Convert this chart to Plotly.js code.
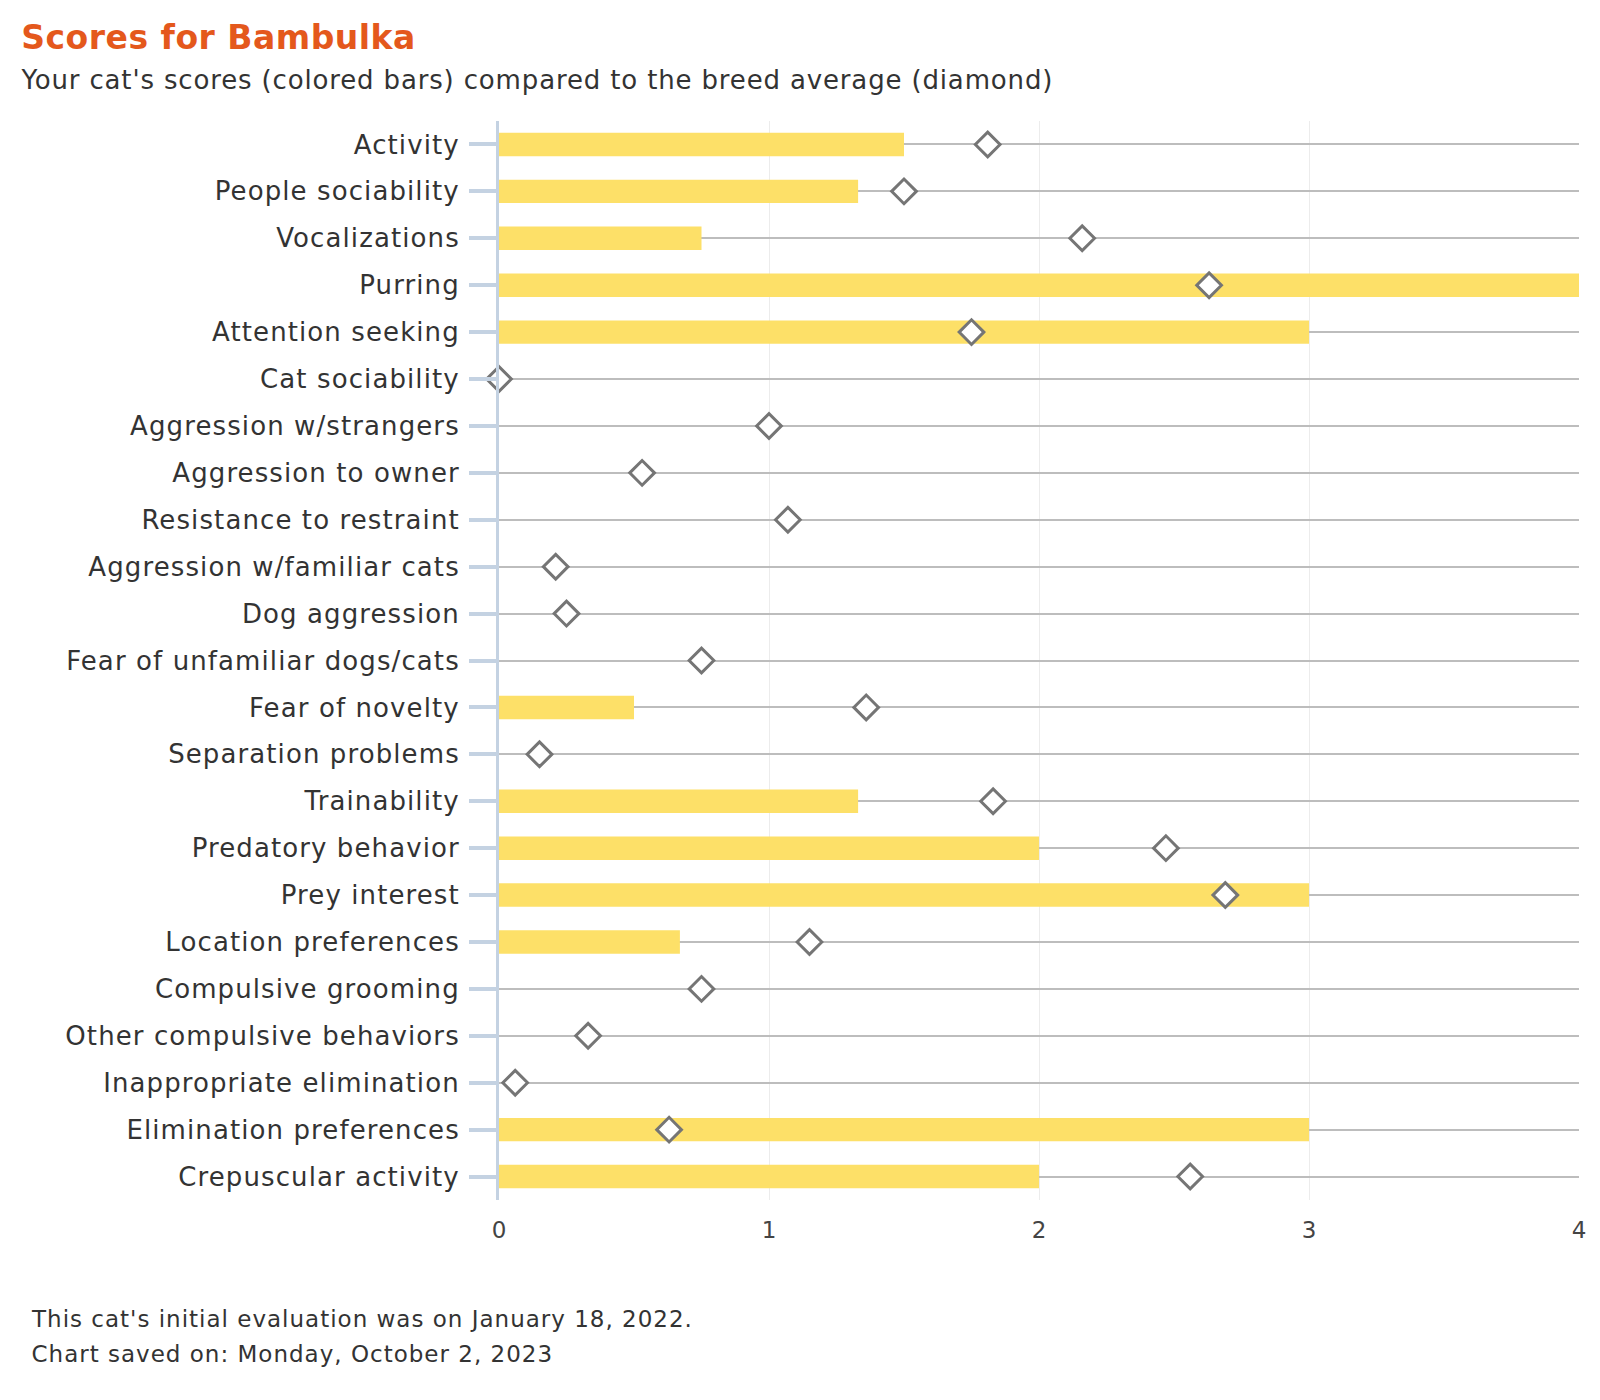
<!DOCTYPE html>
<html>
<head>
<meta charset="utf-8">
<script src="https://cdn.plot.ly/plotly-3.0.1.min.js"></script>
<style>
  html, body { margin: 0; padding: 0; background: #ffffff; }
  #chart { width: 1600px; height: 1400px; }
  #chart .ytick text { letter-spacing: 1.1px; }
  #chart .annotation[data-index="0"] text { letter-spacing: 0.5px; }
  #chart .annotation[data-index="1"] text { letter-spacing: 0.85px; }
  #chart .annotation[data-index="2"] text,
  #chart .annotation[data-index="3"] text { letter-spacing: 1px; }
</style>
</head>
<body>
<div id="chart"></div>
<script>
// ---- Data ----
const categories = [
  "Activity",
  "People sociability",
  "Vocalizations",
  "Purring",
  "Attention seeking",
  "Cat sociability",
  "Aggression w/strangers",
  "Aggression to owner",
  "Resistance to restraint",
  "Aggression w/familiar cats",
  "Dog aggression",
  "Fear of unfamiliar dogs/cats",
  "Fear of novelty",
  "Separation problems",
  "Trainability",
  "Predatory behavior",
  "Prey interest",
  "Location preferences",
  "Compulsive grooming",
  "Other compulsive behaviors",
  "Inappropriate elimination",
  "Elimination preferences",
  "Crepuscular activity"
];
const catScores = [1.5, 1.33, 0.75, 4, 3, 0, 0, 0, 0, 0, 0, 0, 0.5, 0, 1.33, 2, 3, 0.67, 0, 0, 0, 3, 2];
const breedAverage = [1.81, 1.5, 2.16, 2.63, 1.75, 0, 1.0, 0.53, 1.07, 0.21, 0.25, 0.75, 1.36, 0.15, 1.83, 2.47, 2.69, 1.15, 0.75, 0.33, 0.06, 0.63, 2.56];
const xTickVals = [0, 1, 2, 3, 4];
const xTickText = ["0", "1", "2", "3", "4"];

const titleText = "Scores for Bambulka";
const subtitleText = "Your cat's scores (colored bars) compared to the breed average (diamond)";
const footerLines = [
  "This cat's initial evaluation was on January 18, 2022.",
  "Chart saved on: Monday, October 2, 2023"
];

// ---- Layout geometry (pixels) ----
const W = 1600, H = 1400;
const M = { l: 499, r: 21, t: 120.5, b: 199.5 };
const plotW = W - M.l - M.r, plotH = H - M.t - M.b;
const px2x = px => (px - M.l) / plotW;
const py2y = py => (H - M.b - py) / plotH;
// letter-spacing (set in CSS) widens centred annotation text on both sides; shift back
const lsShift = (str, ls) => str.length * ls / 2;

const FONT = "DejaVu Sans, sans-serif";

const barTrace = {
  type: "bar",
  orientation: "h",
  x: catScores,
  y: categories,
  width: 0.5,
  marker: { color: "#fde068", line: { width: 0 } },
  hoverinfo: "x+y",
  showlegend: false
};

const avgTrace = {
  type: "scatter",
  mode: "markers",
  x: breedAverage,
  y: categories,
  cliponaxis: false,
  marker: {
    symbol: "diamond",
    size: 19,
    color: "#ffffff",
    line: { color: "#757575", width: 3 }
  },
  showlegend: false
};

const layout = {
  width: W,
  height: H,
  margin: { l: M.l, r: M.r, t: M.t, b: M.b, pad: 0 },
  paper_bgcolor: "#ffffff",
  plot_bgcolor: "#ffffff",
  font: { family: FONT, color: "#333333", size: 24 },
  showlegend: false,
  xaxis: {
    range: [0, 4],
    tickvals: xTickVals,
    ticktext: xTickText,
    ticks: "",
    showline: false,
    zeroline: false,
    showgrid: true,
    gridcolor: "#ececec",
    gridwidth: 1,
    tickfont: { family: FONT, size: 23, color: "#444444" },
    ticklabelstandoff: 14,
    automargin: false,
    fixedrange: true
  },
  yaxis: {
    type: "category",
    categoryorder: "array",
    categoryarray: categories,
    range: [categories.length - 0.5, -0.5],
    showline: true,
    linecolor: "#c4d2e2",
    linewidth: 3,
    ticks: "outside",
    ticklen: 27,
    tickwidth: 4,
    tickcolor: "#c4d2e2",
    showgrid: true,
    gridcolor: "#bdbdbd",
    gridwidth: 2,
    zeroline: false,
    tickfont: { family: FONT, size: 26, color: "#333333" },
    ticklabelstandoff: 4,
    automargin: false,
    fixedrange: true
  },
  annotations: [
    {
      xref: "paper", yref: "paper",
      x: px2x(19 + lsShift(titleText, 0.5)), y: py2y(37),
      xanchor: "left", yanchor: "middle",
      text: "<b>" + titleText + "</b>",
      showarrow: false,
      font: { family: FONT, size: 33, color: "#e4581c" }
    },
    {
      xref: "paper", yref: "paper",
      x: px2x(18 + lsShift(subtitleText, 0.85)), y: py2y(79),
      xanchor: "left", yanchor: "middle",
      text: subtitleText,
      showarrow: false,
      font: { family: FONT, size: 26, color: "#333333" }
    },
    {
      xref: "paper", yref: "paper",
      x: px2x(29 + lsShift(footerLines[0], 1)), y: py2y(1320),
      xanchor: "left", yanchor: "middle",
      text: footerLines[0],
      showarrow: false,
      font: { family: FONT, size: 23, color: "#333333" }
    },
    {
      xref: "paper", yref: "paper",
      x: px2x(29 + lsShift(footerLines[1], 1)), y: py2y(1355),
      xanchor: "left", yanchor: "middle",
      text: footerLines[1],
      showarrow: false,
      font: { family: FONT, size: 23, color: "#333333" }
    }
  ]
};

Plotly.newPlot("chart", [barTrace, avgTrace], layout, { displayModeBar: false, staticPlot: true });
</script>
</body>
</html>
